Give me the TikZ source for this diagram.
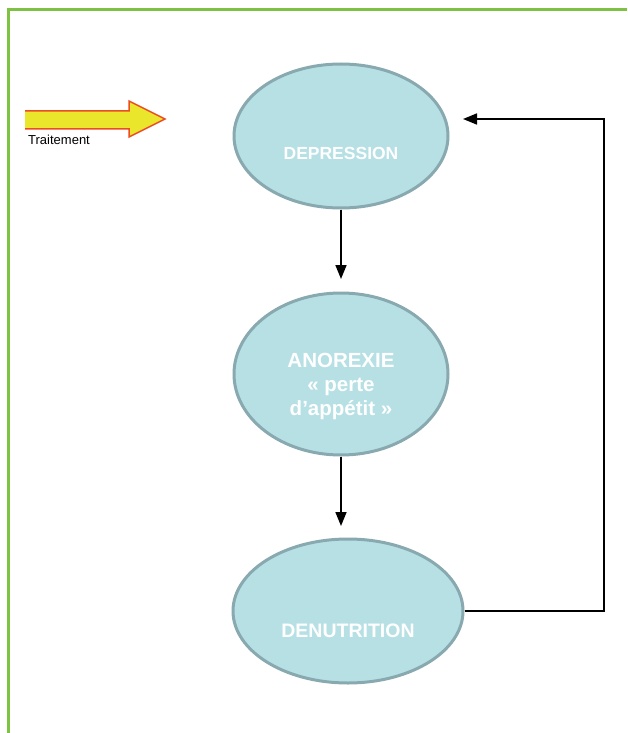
\documentclass[tikz,border=0pt]{standalone}
\usepackage{fontspec}
\setmainfont{Liberation Sans}
\usetikzlibrary{shapes.geometric,arrows.meta}
\definecolor{frameg}{HTML}{7DC242}
\definecolor{ellfill}{HTML}{B7E0E5}
\definecolor{elldraw}{HTML}{88A9AF}
\definecolor{ayellow}{HTML}{EAE62B}
\definecolor{ared}{HTML}{EC4B24}
\tikzset{
  bubble/.style={ellipse, fill=ellfill, draw=elldraw, line width=3pt, inner sep=0pt},
  btext/.style={text=white, font=\fontsize{17.5}{24}\selectfont\bfseries, align=center, inner sep=0pt},
  flow/.style={line width=1.6pt, -{Triangle[width=11pt,length=14pt]}},
}
\begin{document}
\begin{tikzpicture}[x=1pt,y=-1pt]
\useasboundingbox (0,0) rectangle (627,733);
\fill[white] (0,0) rectangle (627,733);
% frame
\draw[frameg, line width=3pt] (8,733) -- (8,10) -- (627,10);
% treatment arrow
\fill[ayellow] (25,111) -- (129,111) -- (129,101) -- (165,119) -- (129,137) -- (129,129) -- (25,129) -- cycle;
\draw[ared, line width=1.5pt, line join=miter] (25,111) -- (129,111) -- (129,101) -- (165,119) -- (129,137) -- (129,129) -- (25,129);
\node[anchor=base west, inner sep=0pt, font=\fontsize{13}{15}\selectfont] (trait) at (28,144) {Traitement};
% ellipses
\node[bubble, minimum width=214pt, minimum height=144pt] (dep) at (341,136) {};
\node[btext] (deptext) at (341,153) {DEPRESSION};
\node[bubble, minimum width=214pt, minimum height=162pt] (ano) at (341,374) {};
\node[btext, font=\fontsize{20.5}{24}\selectfont\bfseries] (anotext) at (341,386) {ANOREXIE\\« perte\\d’appétit »};
\node[bubble, minimum width=230pt, minimum height=144pt] (den) at (348,611) {};
\node[btext, font=\fontsize{19.5}{24}\selectfont\bfseries] (dentext) at (348,631) {DENUTRITION};
% connectors
\coordinate (a1) at (341,279);
\coordinate (a2) at (341,526);
\coordinate (c1) at (604,611);
\coordinate (c2) at (604,119);
\coordinate (c3) at (463,119);
\draw[flow] (dep.south) -- (a1);
\draw[flow] (ano.south) -- (a2);
\draw[flow] (den.east) -- (c1) -- (c2) -- (c3);
\end{tikzpicture}
\end{document}
